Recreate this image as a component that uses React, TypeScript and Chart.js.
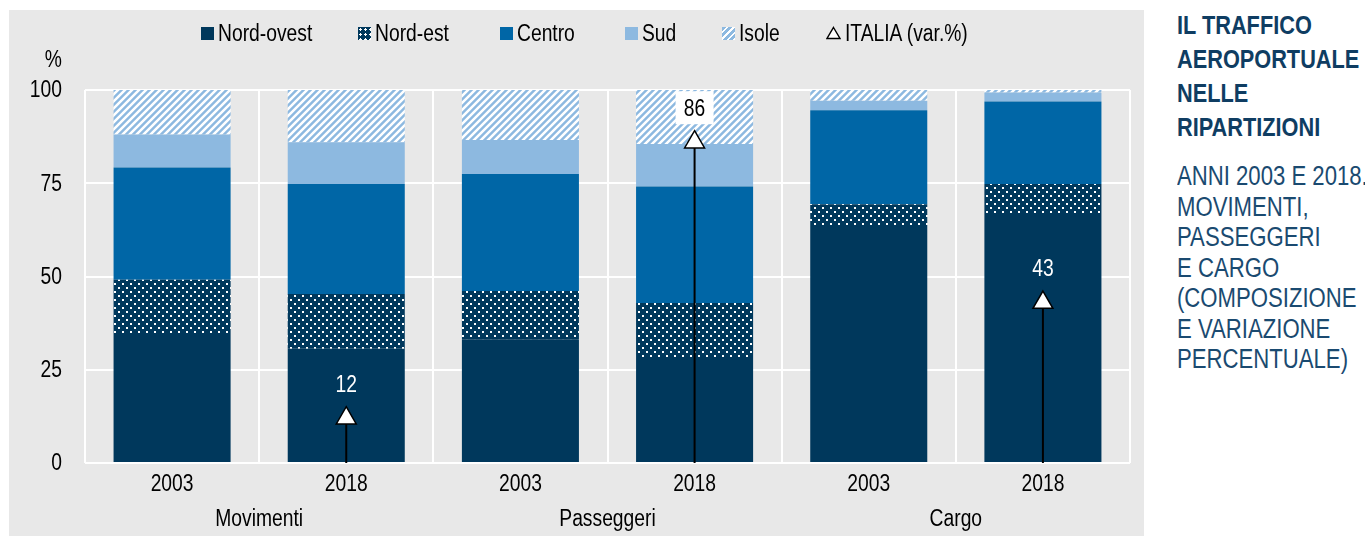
import React, { useEffect, useRef } from 'react';
import { Chart, registerables } from 'chart.js';

Chart.register(...registerables);

// ---- Data ----
const categories = ['2003', '2018', '2003', '2018', '2003', '2018'];
const groups = ['Movimenti', 'Passeggeri', 'Cargo'];
const nordOvest = [34.6, 30.6, 33.2, 28.4, 63.3, 66.5];
const nordEst = [14.5, 14.7, 12.9, 14.5, 6.1, 8.3];
const centro = [30.1, 29.5, 31.4, 31.2, 25.2, 22.1];
const sud = [8.9, 11.2, 9.1, 11.4, 2.5, 2.4];
const isole = [11.9, 14.0, 13.4, 14.5, 2.9, 0.7];
const italiaVar: (number | null)[] = [null, 12, null, 86, null, 43];
const yTickValues = [0, 25, 50, 75, 100];

// ---- Styles ----
const NAVY = '#00385c';
const BLUE = '#0066a6';
const LIGHT = '#8db9e0';
const BG = '#e8e8e8';
const FONT = '"Liberation Sans", Arial, sans-serif';
const NARROW = 0.82;
const FS = 23.5;
const TEXT_COLOR = '#0f3d62';

function narrowText(ctx: CanvasRenderingContext2D, text: string, x: number, y: number, align: CanvasTextAlign) {
  ctx.save();
  ctx.translate(x, y);
  ctx.scale(NARROW, 1);
  ctx.textAlign = align;
  ctx.textBaseline = 'middle';
  ctx.fillText(text, 0, 0);
  ctx.restore();
}

function dotPattern(ctx: CanvasRenderingContext2D) {
  const c = document.createElement('canvas');
  c.width = 8;
  c.height = 8;
  const g = c.getContext('2d')!;
  g.fillStyle = NAVY;
  g.fillRect(0, 0, 8, 8);
  g.fillStyle = '#ffffff';
  g.fillRect(1, 1, 2, 2);
  g.fillRect(5, 5, 2, 2);
  return ctx.createPattern(c, 'repeat')!;
}

function stripePattern(ctx: CanvasRenderingContext2D) {
  const s = 7;
  const c = document.createElement('canvas');
  c.width = s;
  c.height = s;
  const g = c.getContext('2d')!;
  g.fillStyle = LIGHT;
  g.fillRect(0, 0, s, s);
  g.strokeStyle = '#ffffff';
  g.lineWidth = 2.5;
  g.beginPath();
  g.moveTo(-s, s * 2);
  g.lineTo(s * 2, -s);
  g.moveTo(-s, s);
  g.lineTo(s, -s);
  g.moveTo(0, s * 2);
  g.lineTo(s * 2, 0);
  g.stroke();
  return ctx.createPattern(c, 'repeat')!;
}

const stemPlugin = {
  id: 'stems',
  beforeDatasetDraw(chart: any, args: any) {
    if (args.meta.type !== 'line') return;
    const ctx = chart.ctx;
    const y = chart.scales.y;
    ctx.save();
    ctx.strokeStyle = '#000';
    ctx.lineWidth = 2;
    args.meta.data.forEach((pt: any, i: number) => {
      const v = italiaVar[i];
      if (v === null || v === undefined) return;
      ctx.beginPath();
      ctx.moveTo(pt.x, y.getPixelForValue(0));
      ctx.lineTo(pt.x, y.getPixelForValue(v));
      ctx.stroke();
    });
    ctx.restore();
  },
};

const labelPlugin = {
  id: 'varLabels',
  afterDatasetsDraw(chart: any) {
    const ctx = chart.ctx;
    const y = chart.scales.y;
    const x = chart.scales.x;
    ctx.save();
    ctx.font = `${FS}px ${FONT}`;
    italiaVar.forEach((v, i) => {
      if (v === null) return;
      const px = x.getPixelForValue(i);
      const py = y.getPixelForValue(v) - 34;
      const boxed = v > 80;
      if (boxed) {
        ctx.fillStyle = '#ffffff';
        ctx.fillRect(px - 19, py - 17, 38, 33);
        ctx.fillStyle = '#000000';
      } else {
        ctx.fillStyle = '#ffffff';
      }
      narrowText(ctx, String(v), px, py + 1, 'center');
    });
    ctx.restore();
  },
};

const axisTextPlugin = {
  id: 'axisText',
  afterDraw(chart: any) {
    const ctx = chart.ctx;
    const x = chart.scales.x;
    const y = chart.scales.y;
    ctx.save();
    ctx.font = `${FS}px ${FONT}`;
    ctx.fillStyle = '#000';
    categories.forEach((c, i) => {
      narrowText(ctx, c, x.getPixelForValue(i), 475, 'center');
    });
    groups.forEach((g, k) => {
      const cx = (x.getPixelForValue(2 * k) + x.getPixelForValue(2 * k + 1)) / 2;
      narrowText(ctx, g, cx, 510, 'center');
    });
    yTickValues.forEach((v) => {
      narrowText(ctx, String(v), 53, y.getPixelForValue(v) + 1, 'right');
    });
    narrowText(ctx, '%', 53, 51, 'right');
    ctx.restore();
  },
};

// legend item left positions (relative to the grey panel)
const legendItems = [
  { label: 'Nord-ovest', kind: 'navy', left: 192 },
  { label: 'Nord-est', kind: 'dots', left: 349 },
  { label: 'Centro', kind: 'blue', left: 491 },
  { label: 'Sud', kind: 'light', left: 616 },
  { label: 'Isole', kind: 'stripes', left: 713 },
  { label: 'ITALIA (var.%)', kind: 'triangle', left: 817 },
];

function Swatch({ kind }: { kind: string }) {
  if (kind === 'triangle') {
    return (
      <svg width="15" height="14" style={{ display: 'block' }}>
        <polygon points="7.5,1.5 14,12.5 1,12.5" fill="#fff" stroke="#000" strokeWidth="1.4" />
      </svg>
    );
  }
  const style: React.CSSProperties = { width: 13, height: 13 };
  if (kind === 'navy') style.background = NAVY;
  if (kind === 'blue') style.background = BLUE;
  if (kind === 'light') style.background = LIGHT;
  if (kind === 'dots') {
    style.backgroundColor = NAVY;
    style.backgroundImage = 'radial-gradient(#fff 1px, transparent 1.2px)';
    style.backgroundSize = '5px 5px';
  }
  if (kind === 'stripes') {
    style.backgroundColor = LIGHT;
    style.backgroundImage =
      'repeating-linear-gradient(-45deg, #fff 0px, #fff 1.8px, transparent 1.8px, transparent 4.5px)';
  }
  return <div style={style} />;
}

const narrowStyle: React.CSSProperties = {
  display: 'inline-block',
  transform: `scaleX(${NARROW})`,
  transformOrigin: 'left center',
  whiteSpace: 'nowrap',
};

export default function App() {
  const canvasRef = useRef<HTMLCanvasElement | null>(null);

  useEffect(() => {
    const canvas = canvasRef.current!;
    const ctx = canvas.getContext('2d')!;
    const dots = dotPattern(ctx);
    const stripes = stripePattern(ctx);

    const barCommon = {
      type: 'bar' as const,
      stack: 'regions',
      barPercentage: 0.672,
      categoryPercentage: 1,
      borderWidth: 0,
      order: 1,
    };

    const chart = new Chart(ctx, {
      type: 'bar',
      data: {
        labels: categories,
        datasets: [
          {
            type: 'line',
            label: 'ITALIA (var.%)',
            data: italiaVar as any,
            showLine: false,
            pointStyle: 'triangle',
            pointRadius: 11.5,
            pointHoverRadius: 11.5,
            pointBackgroundColor: '#ffffff',
            pointBorderColor: '#000000',
            pointBorderWidth: 1.5,
            stack: 'italia',
            order: -1,
          } as any,
          { ...barCommon, label: 'Nord-ovest', data: nordOvest, backgroundColor: NAVY },
          { ...barCommon, label: 'Nord-est', data: nordEst, backgroundColor: dots },
          { ...barCommon, label: 'Centro', data: centro, backgroundColor: BLUE },
          { ...barCommon, label: 'Sud', data: sud, backgroundColor: LIGHT },
          { ...barCommon, label: 'Isole', data: isole, backgroundColor: stripes },
        ],
      },
      options: {
        responsive: false,
        animation: false,
        devicePixelRatio: 1,
        layout: { padding: { left: 0, right: 14, top: 80, bottom: 0 } },
        plugins: {
          legend: { display: false },
          tooltip: { enabled: false },
        },
        scales: {
          x: {
            stacked: true,
            offset: true,
            grid: { color: '#ffffff', lineWidth: 2, offset: true, drawTicks: false },
            border: { display: false },
            ticks: { display: false },
            afterFit(scale: any) {
              scale.height = 73;
            },
          },
          y: {
            stacked: true,
            min: 0,
            max: 100,
            afterBuildTicks(scale: any) {
              scale.ticks = yTickValues.map((v) => ({ value: v }));
            },
            grid: { color: '#ffffff', lineWidth: 2, drawTicks: false },
            border: { display: false },
            ticks: { display: false },
            afterFit(scale: any) {
              scale.width = 76;
            },
          },
        },
      },
      plugins: [stemPlugin, labelPlugin, axisTextPlugin],
    });

    return () => chart.destroy();
  }, []);

  return (
    <div style={{ position: 'absolute', left: 0, top: 0, width: 1365, height: 536, background: '#fff', fontFamily: FONT }}>
      <div style={{ position: 'absolute', left: 9, top: 10, width: 1135, height: 526, background: BG }}>
        <canvas ref={canvasRef} width={1135} height={526} style={{ position: 'absolute', left: 0, top: 0, width: 1135, height: 526 }} />
        {legendItems.map((it) => (
          <div
            key={it.label}
            style={{
              position: 'absolute',
              left: it.left,
              top: 9,
              height: 28,
              display: 'flex',
              alignItems: 'center',
              fontSize: FS,
              color: '#000',
            }}
          >
            <Swatch kind={it.kind} />
            <span style={{ ...narrowStyle, marginLeft: 4 }}>{it.label}</span>
          </div>
        ))}
      </div>
      <div style={{ position: 'absolute', left: 1177, top: 8, color: TEXT_COLOR }}>
        <div style={{ fontWeight: 'bold', fontSize: 26.5, lineHeight: '34px' }}>
          <div><span style={narrowStyle}>IL TRAFFICO</span></div>
          <div><span style={narrowStyle}>AEROPORTUALE</span></div>
          <div><span style={narrowStyle}>NELLE</span></div>
          <div><span style={narrowStyle}>RIPARTIZIONI</span></div>
        </div>
        <div style={{ fontSize: 27, lineHeight: '30.5px', marginTop: 17, color: '#1a4a70' }}>
          <div><span style={narrowStyle}>ANNI 2003 E 2018.</span></div>
          <div><span style={narrowStyle}>MOVIMENTI,</span></div>
          <div><span style={narrowStyle}>PASSEGGERI</span></div>
          <div><span style={narrowStyle}>E CARGO</span></div>
          <div><span style={narrowStyle}>(COMPOSIZIONE</span></div>
          <div><span style={narrowStyle}>E VARIAZIONE</span></div>
          <div><span style={narrowStyle}>PERCENTUALE)</span></div>
        </div>
      </div>
    </div>
  );
}
